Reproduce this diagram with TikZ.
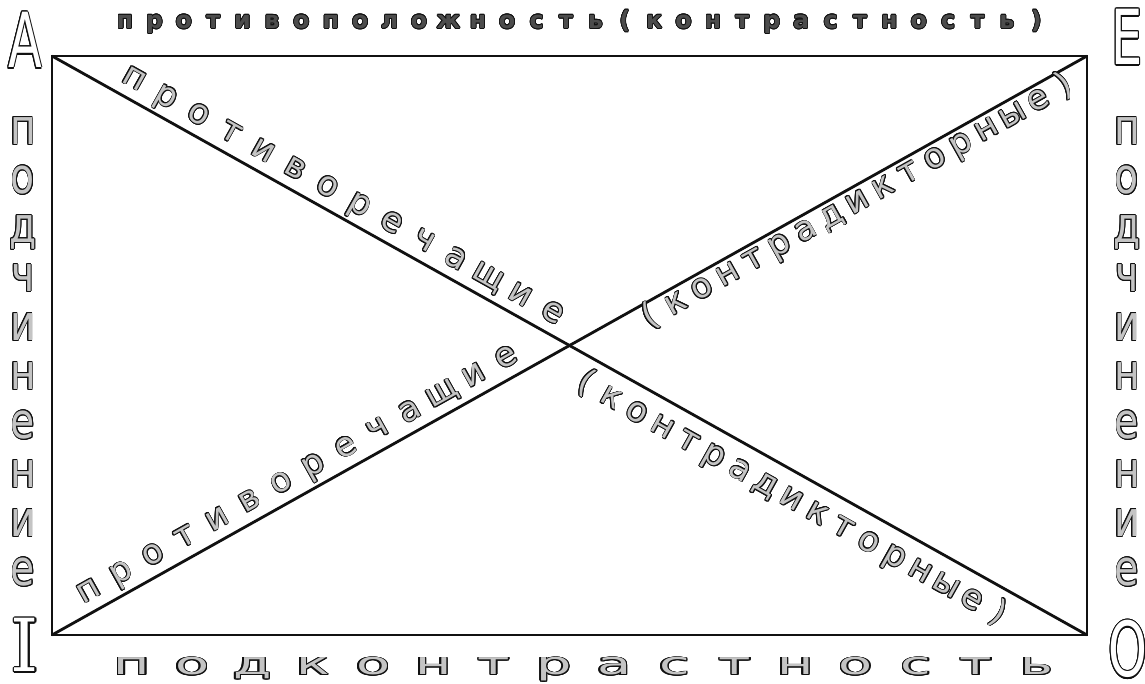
\documentclass[tikz,border=0pt]{standalone}
\usepackage{fontspec}
\setmainfont{DejaVu Sans}
\newfontfamily\slabfont{DejaVu Serif}
\usepackage[copies]{contour}
\usepackage{xcolor}
\usepackage{tikz}
\usetikzlibrary{positioning}
\definecolor{ink}{HTML}{111111}
\definecolor{shade}{HTML}{C4C4C4}
\contourlength{0.6pt}
\newcommand{\outl}[2][white]{\contour{ink}{\textcolor{#1}{#2}}}

\begin{document}
\begin{tikzpicture}[x=0.025cm, y=0.025cm,
  frame/.style={draw=ink, line width=2pt},
  corner/.style={inner sep=0pt, anchor=base, xscale=0.65, font=\fontsize{54}{54}\selectfont},
  side/.style={inner sep=0pt, anchor=base, xscale=0.8, font=\fontsize{35}{35}\selectfont},
  topchar/.style={inner sep=0pt, anchor=base, font=\fontsize{17}{17}\selectfont\bfseries},
  botchar/.style={inner sep=0pt, anchor=base, xscale=1.8, font=\fontsize{22}{22}\selectfont},
  diag/.style={inner sep=0pt, sloped, text height=13pt, text depth=0pt, font=\fontsize{24}{24}\selectfont}]
\useasboundingbox (0,0) rectangle (1145,684);
\coordinate (tl) at (52,628);
\coordinate (tr) at (1087,628);
\coordinate (br) at (1087,49);
\coordinate (bl) at (52,49);
\draw[frame] (tl) -- (tr) -- (br) -- (bl) -- cycle;
\draw[frame] (tl) -- (br);
\draw[frame] (bl) -- (tr);
\node[corner] (A) at (25,616) {\contourlength{1pt}\outl{A}};
\node[corner] (E) at (1127,619) {\contourlength{1pt}\outl{E}};
\node[corner, xscale=1.5, font=\fontsize{52}{52}\selectfont\slabfont] (I) at (25,12) {\contourlength{1pt}\outl{I}};
\node[corner] (O) at (1128,7) {\contourlength{1pt}\outl{O}};
\foreach \ch [count=\i] in {п,о,д,ч,и,н,е,н,и,е} {
  \node[side] (l\i) at (23,{539.5-49*(\i-1)}) {\outl[shade]{\ch}};
  \node[side] (r\i) at (1127,{539.5-49*(\i-1)}) {\outl[shade]{\ch}};
}
\foreach \ch [count=\i] in {п,р,о,т,и,в,о,п,о,л,о,ж,н,о,с,т,ь,{(},к,о,н,т,р,а,с,т,н,о,с,т,ь,{)}}
  \node[topchar] (t\i) at ({125+29.4*(\i-1)},655.5) {\contourlength{0.5pt}\outl[black!70]{\ch}};
\foreach \ch [count=\i] in {п,о,д,к,о,н,т,р,а,с,т,н,о,с,т,ь}
  \node[botchar] (b\i) at ({132+60.3*(\i-1)},9) {\outl[shade]{\ch}};
\foreach \ch [count=\i, evaluate=\i as \p using 0.070+(\i-1)*0.0311] in {п,р,о,т,и,в,о,р,е,ч,а,щ,и,е}
  \path (tl) -- (br) node[diag, pos=\p, above=8pt] (ua\i) {\outl[shade]{\ch}};
\foreach \ch [count=\i, evaluate=\i as \p using 0.5276+(\i-1)*0.0249] in {{(},к,о,н,т,р,а,д,и,к,т,о,р,н,ы,е,{)}}
  \path (tl) -- (br) node[diag, pos=\p, below=11.3pt] (ub\i) {\outl[shade]{\ch}};
\foreach \ch [count=\i, evaluate=\i as \p using 0.0454+(\i-1)*0.031] in {п,р,о,т,и,в,о,р,е,ч,а,щ,и,е}
  \path (bl) -- (tr) node[diag, pos=\p, above=8pt] (va\i) {\outl[shade]{\ch}};
\foreach \ch [count=\i, evaluate=\i as \p using 0.571+(\i-1)*0.025] in {{(},к,о,н,т,р,а,д,и,к,т,о,р,н,ы,е,{)}}
  \path (bl) -- (tr) node[diag, pos=\p, below=4.2pt] (vb\i) {\outl[shade]{\ch}};
\end{tikzpicture}
\end{document}
